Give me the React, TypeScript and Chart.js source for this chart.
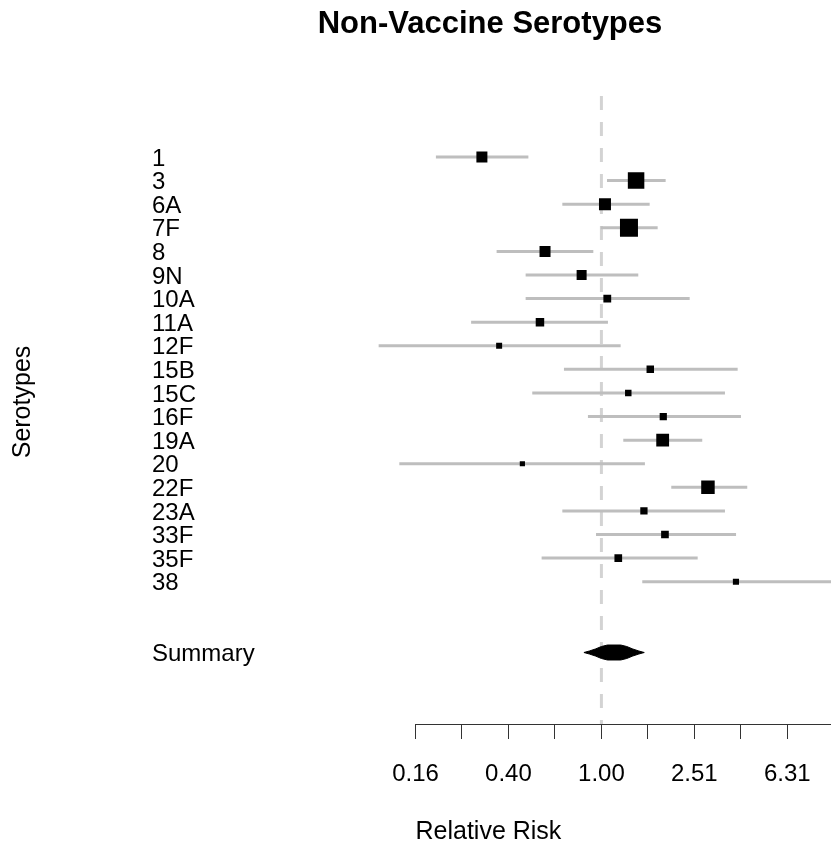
import React, { useEffect, useRef } from 'react';
import { Chart, registerables } from 'chart.js';

Chart.register(...registerables);

// ---------------- data ----------------
const chartTitle = 'Non-Vaccine Serotypes';
const xTitle = 'Relative Risk';
const yTitle = 'Serotypes';

const serotypes = ['1', '3', '6A', '7F', '8', '9N', '10A', '11A', '12F', '15B', '15C', '16F', '19A', '20', '22F', '23A', '33F', '35F', '38'];
const relativeRisk = [0.306, 1.41, 1.036, 1.314, 0.572, 0.822, 1.06, 0.544, 0.363, 1.623, 1.305, 1.846, 1.835, 0.457, 2.874, 1.524, 1.877, 1.182, 3.793];
const lowerCI = [0.194, 1.057, 0.679, 0.993, 0.354, 0.472, 0.472, 0.275, 0.11, 0.69, 0.504, 0.875, 1.242, 0.135, 1.998, 0.679, 0.948, 0.553, 1.499];
const upperCI = [0.485, 1.89, 1.613, 1.746, 0.923, 1.441, 2.398, 1.067, 1.21, 3.858, 3.402, 3.986, 2.716, 1.539, 4.242, 3.402, 3.797, 2.596, 11.0];
const weights = [12.1, 27.2, 14.4, 32.4, 12.1, 10.0, 6.1, 7.2, 3.6, 5.6, 4.2, 5.2, 16.4, 2.7, 18.2, 5.3, 5.9, 5.9, 3.8];

const summaryLabel = 'Summary';
const summaryRR = 1.107;
const summaryLower = 0.841;
const summaryUpper = 1.529;

const xTickValues = [0.1585, 0.2512, 0.3981, 0.631, 1, 1.585, 2.512, 3.981, 6.31];
const xTickLabels = ['0.16', '', '0.40', '', '1.00', '', '2.51', '', '6.31'];

// ---------------- layout / style ----------------
const FONT = '"Liberation Sans", Arial, Helvetica, sans-serif';
const ROW_PX = 23.63;
const Y_MIN = -3.263;
const Y_MAX = 24.03;
const REF_TOP = -2.58;
const summaryRow = serotypes.length + 2;
const rowLabels = [...serotypes, summaryLabel];
const rowValues = [...serotypes.map((_, i) => i), summaryRow];

// [fraction of CI span, half height in px]
const diamondProfile: [number, number][] = [
  [0, 0], [0.09, 1.5], [0.19, 3.5], [0.29, 6], [0.39, 7.5],
  [0.61, 7.5], [0.71, 6], [0.81, 3.5], [0.91, 1.5], [1, 0],
];

function buildDiamond() {
  const a = Math.log10(summaryLower);
  const b = Math.log10(summaryUpper);
  const top = diamondProfile.map(([s, h]) => ({ x: Math.pow(10, a + s * (b - a)), y: summaryRow - h / ROW_PX }));
  const bottom = diamondProfile.slice().reverse().map(([s, h]) => ({ x: Math.pow(10, a + s * (b - a)), y: summaryRow + h / ROW_PX }));
  const pts = [...top, ...bottom];
  pts.push(pts[0]);
  return pts;
}

const mainTitlePlugin = {
  id: 'mainTitle',
  afterDraw(chart: any) {
    const ctx = chart.ctx;
    ctx.save();
    ctx.font = `bold 31px ${FONT}`;
    ctx.fillStyle = '#000';
    ctx.textAlign = 'center';
    ctx.textBaseline = 'alphabetic';
    ctx.fillText(chartTitle, 490, 33);
    ctx.restore();
  },
};

export default function App() {
  const ref = useRef<HTMLCanvasElement | null>(null);

  useEffect(() => {
    if (!ref.current) return;
    Chart.defaults.font.family = FONT;
    Chart.defaults.color = '#000';

    const ciDatasets = serotypes.map((s, i) => ({
      type: 'line',
      label: `CI ${s}`,
      data: [{ x: lowerCI[i], y: i }, { x: upperCI[i], y: i }],
      borderColor: '#bebebe',
      borderWidth: 3,
      borderCapStyle: 'butt',
      pointRadius: 0,
      fill: false,
      clip: false,
      order: 2,
    }));

    const chart = new Chart(ref.current, {
      type: 'line',
      data: {
        datasets: [
          {
            type: 'line',
            label: 'reference',
            data: [{ x: 1, y: REF_TOP }, { x: 1, y: Y_MAX }],
            borderColor: '#d3d3d3',
            borderWidth: 3,
            borderDash: [14, 12],
            pointRadius: 0,
            fill: false,
            order: 3,
          },
          ...ciDatasets,
          {
            type: 'line',
            label: 'estimates',
            data: relativeRisk.map((v, i) => ({ x: v, y: i })),
            showLine: false,
            pointStyle: 'rect',
            pointRadius: (c: any) => Math.sqrt(weights[c.dataIndex] * 10) / Math.SQRT2,
            pointHoverRadius: (c: any) => Math.sqrt(weights[c.dataIndex] * 10) / Math.SQRT2,
            pointBackgroundColor: '#000',
            pointBorderWidth: 0,
            backgroundColor: '#000',
            borderColor: '#000',
            order: 0,
          },
          {
            type: 'line',
            label: 'summary',
            data: buildDiamond(),
            borderColor: '#000',
            backgroundColor: '#000',
            borderWidth: 1,
            pointRadius: 0,
            fill: 'shape',
            tension: 0,
            order: 0,
          },
        ] as any,
      },
      options: {
        responsive: false,
        animation: false,
        devicePixelRatio: 1,
        events: [],
        layout: { autoPadding: false, padding: { top: 80, left: 0, right: 0, bottom: 0 } },
        plugins: {
          legend: { display: false },
          tooltip: { enabled: false },
          title: { display: false },
        },
        scales: {
          x: {
            type: 'logarithmic',
            position: 'bottom',
            min: Math.pow(10, -0.8),
            max: Math.pow(10, 0.988),
            afterBuildTicks: (scale: any) => {
              scale.ticks = xTickValues.map((v) => ({ value: v }));
            },
            afterFit: (scale: any) => {
              scale.height = 123;
            },
            ticks: {
              autoSkip: false,
              maxRotation: 0,
              minRotation: 0,
              padding: 0,
              color: '#000',
              font: { size: 24, lineHeight: 70 / 24 },
              callback: (_v: any, i: number) => xTickLabels[i],
            },
            grid: {
              display: true,
              drawOnChartArea: false,
              drawTicks: true,
              tickLength: 15,
              color: '#333',
              lineWidth: 1,
            },
            border: { display: true, color: '#333', width: 1 },
            title: {
              display: true,
              text: xTitle,
              align: 'start',
              color: '#000',
              font: { size: 25, lineHeight: 1.2 },
              padding: { top: 0, bottom: 0 },
            },
          },
          y: {
            type: 'linear',
            position: 'left',
            reverse: true,
            min: Y_MIN,
            max: Y_MAX,
            weight: 0,
            afterBuildTicks: (scale: any) => {
              scale.ticks = rowValues.map((v) => ({ value: v }));
            },
            afterFit: (scale: any) => {
              scale.width = 263.5;
            },
            ticks: {
              autoSkip: false,
              crossAlign: 'far',
              labelOffset: 2,
              color: '#000',
              font: { size: 24, lineHeight: 1 },
              callback: (_v: any, i: number) => rowLabels[i],
            },
            grid: { display: false, drawTicks: false },
            border: { display: false },
          },
          yTitle: {
            type: 'linear',
            position: 'left',
            weight: 1,
            afterFit: (scale: any) => {
              scale.width = 152;
            },
            ticks: { display: false },
            grid: { display: false, drawTicks: false },
            border: { display: false },
            title: {
              display: true,
              text: yTitle,
              color: '#000',
              font: { size: 25, lineHeight: 1.2 },
              padding: { top: 8, bottom: 0 },
            },
          },
        },
      } as any,
      plugins: [mainTitlePlugin],
    });

    return () => chart.destroy();
  }, []);

  return (
    <div style={{ position: 'absolute', left: 0, top: 0, width: 831, height: 847 }}>
      <canvas ref={ref} width={831} height={847} style={{ display: 'block', width: 831, height: 847 }} />
    </div>
  );
}
